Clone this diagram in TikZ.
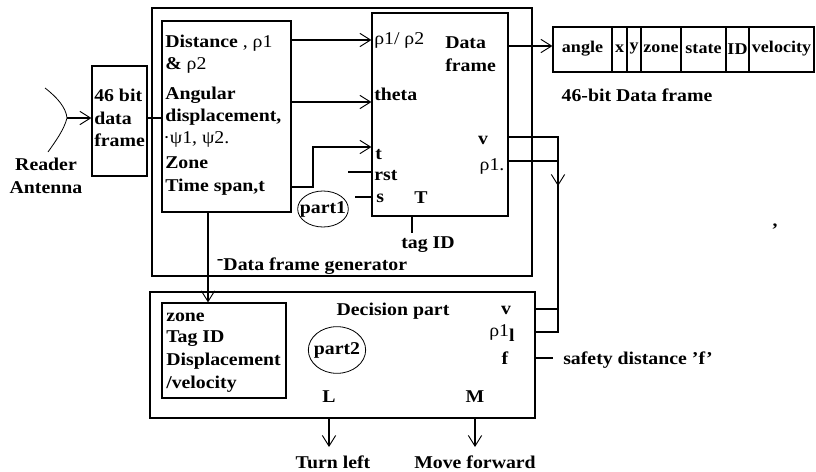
\documentclass[tikz,border=0pt]{standalone}
\usepackage{fontspec}
\setmainfont[FakeStretch=1.1]{Liberation Serif}
\usetikzlibrary{arrows.meta,fit,calc,shapes.geometric}
\begin{document}
\begin{tikzpicture}[x=0.75pt,y=-0.75pt,
  font=\fontsize{13.5}{16}\selectfont\bfseries,
  box/.style={draw, line width=0.9pt, inner sep=0pt},
  conn/.style={line width=0.9pt},
  arr/.style={conn, -{Straight Barb[length=8pt,width=10pt,line width=0.7pt]}},
  lbl/.style={inner sep=0pt, anchor=west},
  ctr/.style={inner sep=0pt, anchor=center},
  fld/.style={ctr, font=\fontsize{12.3}{14}\selectfont\bfseries},
  lt/.style={font=\fontsize{13.5}{16}\selectfont\mdseries},
  rim/.style={draw, line width=0.6pt}]
\useasboundingbox (0,0) rectangle (816,471);

% ---- boxes
\coordinate (g1) at (152,8);   \coordinate (g2) at (532,276);
\node[box, fit=(g1)(g2)] (gen) {};
\coordinate (i1) at (162,21);  \coordinate (i2) at (291,212);
\node[box, fit=(i1)(i2)] (inner) {};
\coordinate (f1) at (92,66);   \coordinate (f2) at (147,176);
\node[box, fit=(f1)(f2)] (bitbox) {};
\coordinate (t1) at (372,13);  \coordinate (t2) at (508,216);
\node[box, fit=(t1)(t2)] (tbox) {};
\coordinate (d1) at (150,292); \coordinate (d2) at (535,418);
\node[box, fit=(d1)(d2)] (dec) {};
\coordinate (e1) at (162,303); \coordinate (e2) at (286,398);
\node[box, fit=(e1)(e2)] (decin) {};
\coordinate (r1) at (553,27);  \coordinate (r2) at (814,72);
\node[box, fit=(r1)(r2)] (frame) {};

% ---- 46-bit data frame fields
\foreach \x in {612,627,641,681,726,749} \draw[conn] (\x,27) -- (\x,72);
\node[fld] (fa) at (582.5,49) {angle};
\node[fld] (fx) at (619.5,49) {x};
\node[fld] (fy) at (634,49) {y};
\node[fld] (fz) at (661,49) {zone};
\node[fld] (fs) at (703.5,49) {state};
\node[fld] (fi) at (737.5,49) {ID};
\node[fld] (fv) at (781.5,49) {velocity};
\node[ctr] (framelbl) at (637,95) {46-bit Data frame};

% ---- antenna
\coordinate (ant) at (67,118);
\draw[line width=0.6pt] (45,88) .. controls (58,98) and (66,108) .. (ant)
  .. controls (64,130) and (55,142) .. (48,152);
\node[ctr, align=center] (antlbl) at (46,176) {Reader\\[1pt]Antenna};
\draw[arr] (ant) -- (bitbox.west |- ant);

% ---- 46 bit box text
\node[lbl] (b1) at (94,95) {46 bit};
\node[lbl] (b2) at (94,118) {data};
\node[lbl] (b3) at (94,140) {frame};
\draw[conn] (bitbox.east |- ant) -- (inner.west |- ant);

% ---- inner (left) box text
\node[lbl] (s1) at (165,43) {Distance\textmd{ , ρ1}};
\node[lbl] (s2) at (165,65) {\& \textmd{ρ2}};
\node[lbl] (s3) at (165,95) {Angular};
\node[lbl] (s4) at (165,117) {displacement,};
\node[lbl, lt] (s5) at (163,139) {·ψ1, ψ2.};
\node[lbl] (s6) at (165,163) {Zone};
\node[lbl] (s7) at (165,187) {Time span,t};

% ---- T box text
\node[lbl, lt] (p12) at (374,40) {ρ1/ ρ2};
\node[lbl] (df1) at (445,43) {Data};
\node[lbl] (df2) at (445,65) {frame};
\node[lbl] (th) at (374,94) {theta};
\node[lbl] (tt) at (375,155) {t};
\node[lbl] (tr) at (374,176) {rst};
\node[lbl] (ts) at (376,198) {s};
\node[ctr] (tT) at (421,198) {T};
\node[ctr] (tv) at (483,140) {v};
\node[ctr, lt] (tp) at (492,166) {ρ1.};
\node[ctr] (tag) at (428,245) {tag ID};
\node[ctr] (part1) at (323,209) {part1};
\draw[rim] (part1.center) ellipse [x radius=19pt, y radius=13.5pt];
\node[ctr] (genlbl) at (312,266) {\raisebox{0.3em}{-}Data frame generator};

% ---- connectors inside generator
\coordinate (ya) at (0,40);
\coordinate (yb) at (0,102);
\draw[arr] (inner.east |- ya) -- (tbox.west |- ya);
\draw[arr] (inner.east |- yb) -- (tbox.west |- yb);
\coordinate (tk1) at (313,187);
\coordinate (tk2) at (313,147);
\draw[arr] (inner.east |- tk1) -- (tk1) -- (tk2) -- (tbox.west |- tk2);
\coordinate (rs) at (348,172);
\draw[conn] (rs) -- (tbox.west |- rs);
\coordinate (ss) at (355,197);
\draw[conn] (ss) -- (tbox.west |- ss);
\coordinate (tg) at (412,233);
\draw[conn] (tbox.south -| tg) -- (tg);
\coordinate (yf) at (0,46);
\draw[arr] (tbox.east |- yf) -- (frame.west |- yf);

% ---- generator to decision
\coordinate (dn) at (208,0);
\draw[arr] (inner.south -| dn) -- (decin.north -| dn);

% ---- v / rho1 feedback
\coordinate (vo) at (508,137);
\coordinate (po) at (508,161);
\coordinate (vc) at (558,137);
\coordinate (vi) at (558,309);
\coordinate (pi) at (558,332);
\coordinate (am) at (558,186);
\draw[conn] (vo) -- (vc) -- (vi) -- (dec.east |- vi);
\draw[conn] (po) -- (557,161);
\draw[conn] (vi) -- (pi) -- (dec.east |- pi);
\draw[arr] (vc) -- (am);

% ---- decision part
\node[lbl] (z1) at (166,317) {zone};
\node[lbl] (z2) at (166,339) {Tag ID};
\node[lbl] (z3) at (166,361) {Displacement};
\node[lbl] (z4) at (166,384) {/velocity};
\node[ctr] (decl) at (393,311) {Decision part};
\node[ctr] (part2) at (337,350) {part2};
\draw[rim] (part2.center) ellipse [x radius=21.5pt, y radius=17.5pt];
\node[ctr] (dv) at (506,310) {v};
\node[ctr] (dp) at (502,333) {\textmd{ρ1}\raisebox{-0.25em}{l}};
\node[ctr] (df) at (505,358) {f};
\coordinate (ff) at (553,358);
\draw[conn] (dec.east |- ff) -- (ff);
\node[lbl] (safe) at (563,360) {safety distance 'f'};
\node[ctr] (L) at (329,397) {L};
\node[ctr] (M) at (475,397) {M};
\coordinate (la) at (329,447);
\coordinate (ma) at (475,447);
\draw[arr] (dec.south -| la) -- (la);
\draw[arr] (dec.south -| ma) -- (ma);
\node[ctr] (tl) at (333,462) {Turn left};
\node[ctr] (mf) at (475,462) {Move forward};
\node[ctr] (cm) at (775,227) {,};
\end{tikzpicture}
\end{document}
